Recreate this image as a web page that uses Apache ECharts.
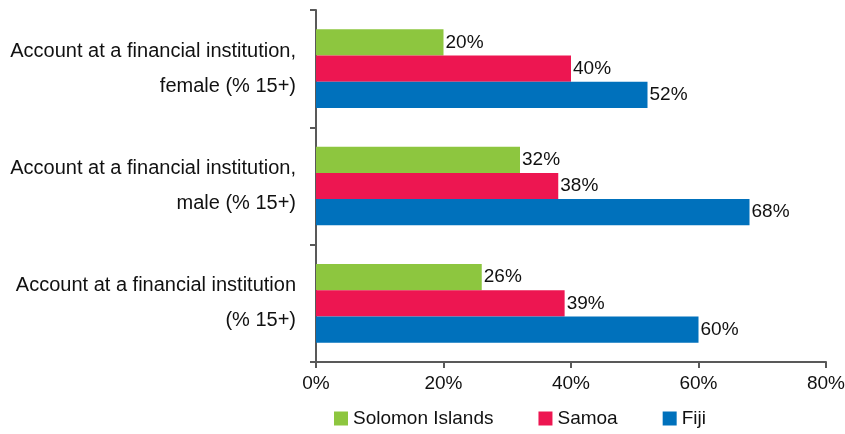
<!DOCTYPE html>
<html lang="en">
<head>
    <meta charset="UTF-8">
    <title>Account at a financial institution</title>
    <style>
        *{ margin: 0; padding: 0;}
        body{ background: #fff;}
        #chart{ width: 845px; height: 434px;}
    </style>
    <script src="https://cdn.jsdelivr.net/npm/echarts@6/dist/echarts.min.js"></script>
</head>
<body>
    <div id="chart"></div>
    <script>
        // categories, top to bottom
        var categories = [
            'Account at a financial institution,\nfemale (% 15+)',
            'Account at a financial institution,\nmale (% 15+)',
            'Account at a financial institution\n(% 15+)'
        ];
        var solomonIslands = [20, 32, 26];
        var samoa = [40, 38, 39];
        var fiji = [52, 68, 60];
        var xTicks = [0, 20, 40, 60, 80];

        var font = 'Liberation Sans, Arial, sans-serif';
        var axisColor = '#595959';

        function barSeries(name, data, color) {
            return {
                name: name,
                type: 'bar',
                data: data,
                barGap: 0,
                barCategoryGap: '33%',
                itemStyle: { color: color },
                label: {
                    show: true,
                    position: 'right',
                    distance: 2,
                    formatter: '{c}%',
                    color: '#111',
                    fontSize: 19,
                    fontFamily: font
                }
            };
        }

        var myChart = echarts.init(document.getElementById('chart'));
        myChart.setOption({
            animation: false,
            grid: { left: 316, right: 19, top: 10, bottom: 72, containLabel: false, outerBoundsMode: 'none' },
            legend: {
                bottom: 1,
                left: 329,
                itemWidth: 14,
                itemHeight: 14,
                itemGap: 45,
                icon: 'rect',
                data: ['Solomon Islands', 'Samoa', 'Fiji'],
                textStyle: { fontSize: 19, color: '#111', fontFamily: font }
            },
            xAxis: {
                type: 'value',
                min: xTicks[0],
                max: xTicks[xTicks.length - 1],
                interval: 20,
                axisLine: { show: true, lineStyle: { color: axisColor, width: 2 } },
                axisTick: { show: true, length: 6, lineStyle: { color: axisColor, width: 2 } },
                splitLine: { show: false },
                axisLabel: {
                    formatter: '{value}%',
                    margin: 12,
                    fontSize: 19,
                    color: '#111',
                    fontFamily: font
                }
            },
            yAxis: {
                type: 'category',
                inverse: true,
                data: categories,
                axisLine: { show: true, lineStyle: { color: axisColor, width: 2 } },
                axisTick: { show: true, length: 6, lineStyle: { color: axisColor, width: 2 } },
                axisLabel: {
                    margin: 20,
                    align: 'right',
                    lineHeight: 35,
                    fontSize: 20,
                    color: '#111',
                    fontFamily: font
                }
            },
            series: [
                barSeries('Solomon Islands', solomonIslands, '#8dc63f'),
                barSeries('Samoa', samoa, '#ed1651'),
                barSeries('Fiji', fiji, '#0071bc')
            ]
        });
    </script>
</body>
</html>
